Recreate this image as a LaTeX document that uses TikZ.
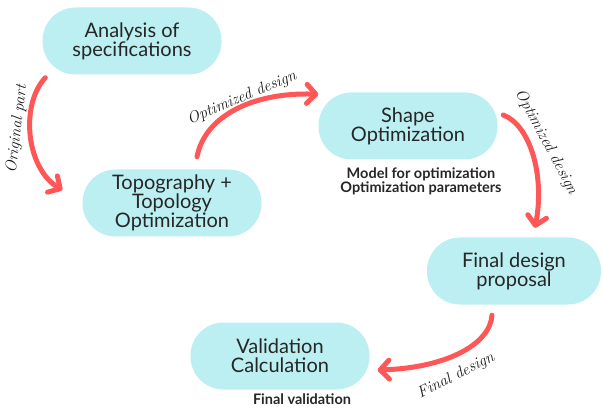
\documentclass[tikz,border=0pt]{standalone}
\usepackage{fontspec}
\setmainfont{Lato}
\newfontfamily\handfont{Latin Modern Roman}
\usetikzlibrary{arrows.meta}
\definecolor{pill}{HTML}{BCEFF1}
\definecolor{coral}{HTML}{FF5757}
\tikzset{
  pillbox/.style={fill=pill, draw=none, align=center, inner sep=0pt,
    minimum width=179pt, minimum height=67pt, rounded corners=33pt,
    font=\fontsize{20}{19}\selectfont, text=black!85},
  note/.style={font=\bfseries\fontsize{14.5}{12.5}\selectfont, align=center, text=black!85},
  flow/.style={draw=coral, line width=5pt, line cap=round,
    -{Straight Barb[length=9pt,width=19pt,line cap=round,line join=round]}},
  tag/.style={font=\handfont\itshape\fontsize{16}{16}\selectfont, text=black!90}
}
\begin{document}
\begin{tikzpicture}[x=1pt,y=-1pt]
\useasboundingbox (0,0) rectangle (603,409);
\node[pillbox] (a) at (132,41) {Analysis of\\specifications};
\node[pillbox] (b) at (172,203) {Topography +\\Topology\\Optimization};
\node[pillbox] (c) at (408,126) {Shape\\Optimization};
\node[pillbox, minimum width=174pt] (d) at (514,271) {Final design\\proposal};
\node[pillbox] (e) at (280,356) {Validation\\Calculation};
\node[note, anchor=north] (cn) at (421,164) {Model for optimization\\Optimization parameters};
\node[note, anchor=base] (en) at (302,404) {Final validation};
% connectors
\draw[flow] ([shift={(3,3)}]a.south west) .. controls (20,105) and (26,168) .. ([shift={(-20,-13)}]b.west);
\draw[flow] ([shift={(25,-12.5)}]b.north) .. controls (205,115) and (255,92) .. ([shift={(0,2)}]c.north west);
\draw[flow] ([shift={(5.5,-11)}]c.east) .. controls (530,125) and (545,175) .. ([shift={(21,-9.5)}]d.north);
\draw[flow] ([shift={(-22,10.5)}]d.south) .. controls (490,345) and (445,368) .. ([shift={(8,14)}]e.east);
% labels
\node[tag, rotate=83] (t1) at (17,129) {Original part};
\node[tag, rotate=23] (t2) at (242,98) {Optimized design};
\node[tag, rotate=-62] (t3) at (546,142) {Optimized design};
\node[tag, rotate=27] (t4) at (456,376) {Final design};
\end{tikzpicture}
\end{document}
